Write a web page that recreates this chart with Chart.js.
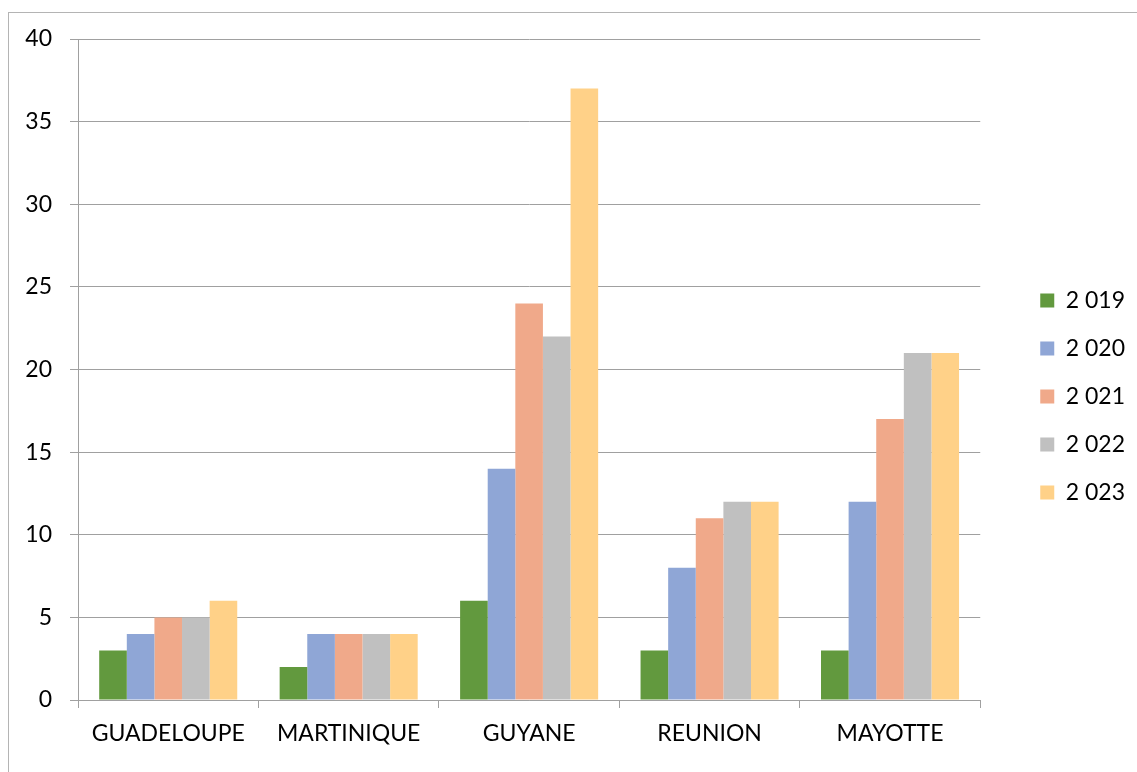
<!DOCTYPE html>
<html>
<head>
<meta charset="utf-8">
<script src="https://cdn.jsdelivr.net/npm/chart.js@4/dist/chart.umd.min.js"></script>
<style>
  html, body { margin: 0; padding: 0; background: #fff; overflow: hidden; }
  #frame { position: absolute; left: 8px; top: 12px; width: 1200px; height: 800px; border: 1px solid #b4b4b4; }
  #wrap { position: absolute; left: 0; top: 0; width: 1137px; height: 772px; }
</style>
</head>
<body>
<div id="frame"></div>
<div id="wrap"><canvas id="chart"></canvas></div>
<script>
// Data
const regions = ['GUADELOUPE', 'MARTINIQUE', 'GUYANE', 'REUNION', 'MAYOTTE'];
const years = ['2 019', '2 020', '2 021', '2 022', '2 023'];
const v2019 = [3, 2, 6, 3, 3];
const v2020 = [4, 4, 14, 8, 12];
const v2021 = [5, 4, 24, 11, 17];
const v2022 = [5, 4, 22, 12, 21];
const v2023 = [6, 4, 37, 12, 21];
const colors = ['#62993e', '#8fa6d6', '#f0a98a', '#c0c0c0', '#ffd188'];

const series = [v2019, v2020, v2021, v2022, v2023];
const font = { family: 'Lato', size: 23 };

new Chart(document.getElementById('chart'), {
  type: 'bar',
  data: {
    labels: regions,
    datasets: series.map((vals, i) => ({
      label: years[i],
      data: vals,
      backgroundColor: colors[i],
      borderWidth: 0,
      categoryPercentage: 0.765,
      barPercentage: 1
    }))
  },
  options: {
    responsive: true,
    maintainAspectRatio: false,
    animation: false,
    layout: { padding: { top: 39, bottom: 18, left: 0, right: 2 } },
    plugins: {
      tooltip: { enabled: false },
      legend: {
        position: 'right',
        labels: { boxWidth: 14, boxHeight: 14, padding: 25, color: '#000', font: font }
      }
    },
    scales: {
      x: {
        grid: { offset: true, drawOnChartArea: false, drawTicks: true, tickLength: 8, color: '#a0a0a0' },
        border: { display: true, color: '#a0a0a0', width: 1 },
        ticks: { color: '#000', font: font, padding: 12, maxRotation: 0 },
        afterFit: s => { s.height = 54; }
      },
      y: {
        min: 0,
        max: 40,
        ticks: { stepSize: 5, color: '#000', font: font, padding: 18 },
        grid: { color: '#a0a0a0', tickLength: 8 },
        border: { display: true, color: '#a0a0a0', width: 1 },
        afterFit: s => { s.width = 78; }
      },
      yRight: {
        position: 'right',
        display: true,
        grid: { display: false },
        ticks: { display: false },
        border: { display: false },
        afterFit: s => { s.width = 35; }
      }
    }
  }
});
</script>
</body>
</html>
